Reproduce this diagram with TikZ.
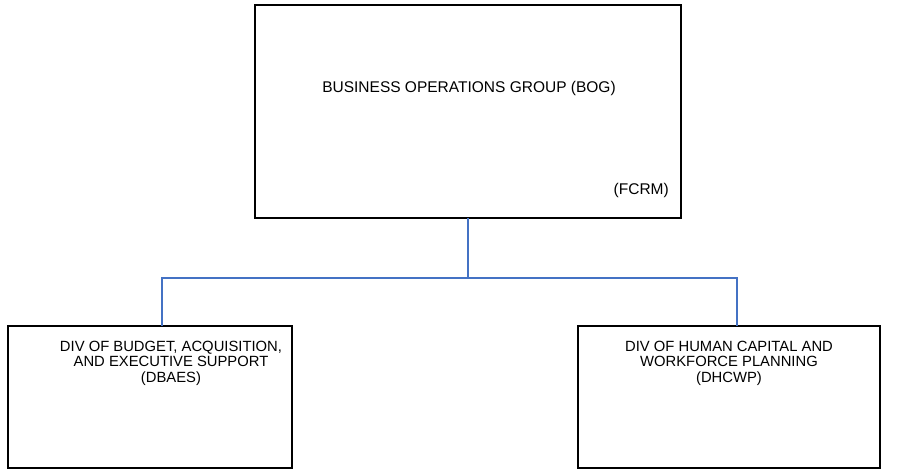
\documentclass[tikz,border=0pt]{standalone}
\usepackage{fontspec}
\setmainfont{Liberation Sans}
\begin{document}
\begin{tikzpicture}[x=1pt,y=-1pt,
  orgbox/.style={draw=black,line width=2pt,rectangle,inner sep=0pt,outer sep=0pt},
  lbl/.style={font=\fontsize{15.5}{18}\selectfont,align=center,inner sep=0pt},
  sublbl/.style={font=\fontsize{14.8}{15.5}\selectfont,align=center,inner sep=0pt},
  link/.style={draw={rgb,255:red,68;green,114;blue,196},line width=2pt}]
\useasboundingbox (0,0) rectangle (901,471);
\node[orgbox,minimum width=426pt,minimum height=213pt] (top) at (468,111.5) {};
\node[orgbox,minimum width=284pt,minimum height=142pt] (left) at (150,397) {};
\node[orgbox,minimum width=302pt,minimum height=142pt] (right) at (729,397) {};
\node[lbl] (tbog) at (469,88) {BUSINESS OPERATIONS GROUP (BOG)};
\node[lbl,anchor=east] (tfcrm) at (669,190) {(FCRM)};
\node[sublbl] (tleft) at (171,363) {DIV OF BUDGET, ACQUISITION,\\AND EXECUTIVE SUPPORT\\(DBAES)};
\node[sublbl] (tright) at (729,363) {DIV OF HUMAN CAPITAL AND\\WORKFORCE PLANNING\\(DHCWP)};
\coordinate (jt) at (468,278);
\coordinate (jl) at (162,278);
\coordinate (jr) at (737,278);
\draw[link] (top.south) -- (jt);
\draw[link] (jl |- left.north) -- (jl) -- (jr) -- (jr |- right.north);
\end{tikzpicture}
\end{document}
